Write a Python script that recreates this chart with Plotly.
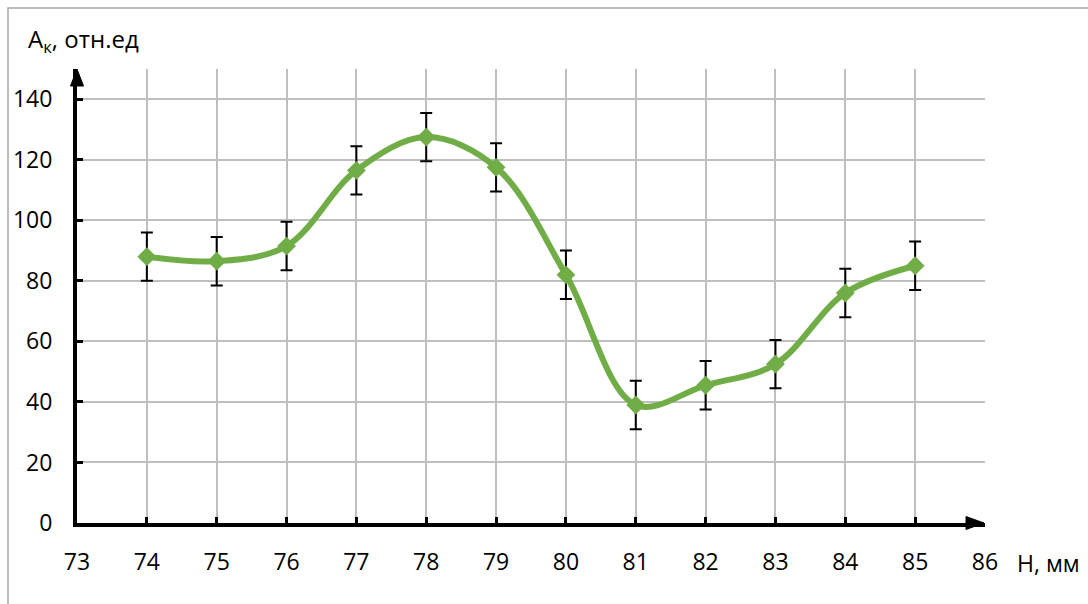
import plotly.graph_objects as go

# Measurements: height H (mm) vs amplitude A_k (relative units)
h_mm = [74, 75, 76, 77, 78, 79, 80, 81, 82, 83, 84, 85]
a_k = [88, 86.5, 91.5, 116.5, 127.5, 117.5, 82, 39, 45.5, 52.5, 76, 85]
a_err = [8, 8, 8, 8, 8, 8, 8, 8, 8, 8, 8, 8]

x_ticks = list(range(73, 87))
y_ticks = list(range(0, 141, 20))

GREEN = "#70AD47"
FONT = "Open Sans, Noto Sans, sans-serif"

fig = go.Figure()
fig.add_trace(go.Scatter(
    x=h_mm, y=a_k,
    mode="lines+markers",
    line=dict(color=GREEN, width=6, shape="spline", smoothing=1.0),
    marker=dict(symbol="diamond", size=14.5, color=GREEN),
    error_y=dict(type="data", array=a_err, visible=True,
                 color="black", thickness=2, width=6),
    showlegend=False,
))

# plot area in pixels: x 77..985, y 69..523
L, R, T, B = 77, 1088 - 985, 69, 604 - 523
PW, PH = 985 - 77, 523 - 69


def px(x):
    return (x - L) / PW


def py(y):
    return (523 - y) / PH


fig.update_layout(
    width=1088, height=604,
    margin=dict(l=L, r=R, t=T, b=B),
    paper_bgcolor="white", plot_bgcolor="white",
    font=dict(family=FONT, size=23, color="black"),
    xaxis=dict(
        range=[73, 86], tickvals=x_ticks, ticktext=[str(v) for v in x_ticks],
        showgrid=True, gridcolor="#BFBFBF", gridwidth=1.5,
        showline=True, linecolor="black", linewidth=4,
        ticks="inside", ticklen=6, tickwidth=3, tickcolor="black",
        ticklabelstandoff=15, zeroline=False, fixedrange=True,
    ),
    yaxis=dict(
        range=[0, 150], tickvals=y_ticks, ticktext=[str(v) for v in y_ticks],
        showgrid=True, gridcolor="#BFBFBF", gridwidth=1.5,
        showline=True, linecolor="black", linewidth=4,
        ticks="inside", ticklen=6, tickwidth=3, tickcolor="black",
        ticklabelstandoff=16, zeroline=False, fixedrange=True,
    ),
    shapes=[
        # outer chart frame
        dict(type="rect", xref="paper", yref="paper",
             x0=px(8), x1=px(1100), y0=py(620), y1=py(8),
             line=dict(color="#A6A6A6", width=1.5), layer="below"),
        # arrowhead on the vertical axis (top-left corner of the plot area)
        dict(type="path", xref="paper", yref="paper",
             xsizemode="pixel", ysizemode="pixel", xanchor=0, yanchor=1,
             path="M-6.5,-17 L6.5,-17 L0,0 Z",
             fillcolor="black", line=dict(color="black", width=1)),
        # arrowhead on the horizontal axis (bottom-right corner of the plot area)
        dict(type="path", xref="paper", yref="paper",
             xsizemode="pixel", ysizemode="pixel", xanchor=1, yanchor=0,
             path="M-19,6.5 L-19,-6.5 L-1,0 Z",
             fillcolor="black", line=dict(color="black", width=1)),
    ],
    annotations=[
        dict(x=px(26), y=py(40), xref="paper", yref="paper",
             xanchor="left", yanchor="middle", showarrow=False,
             text="A<sub>к</sub>, отн.ед", font=dict(size=24, family=FONT)),
        dict(x=px(1015), y=py(563), xref="paper", yref="paper",
             xanchor="left", yanchor="middle", showarrow=False,
             text="H, мм", font=dict(size=23, family=FONT)),
    ],
)

fig.write_html("out.html")
